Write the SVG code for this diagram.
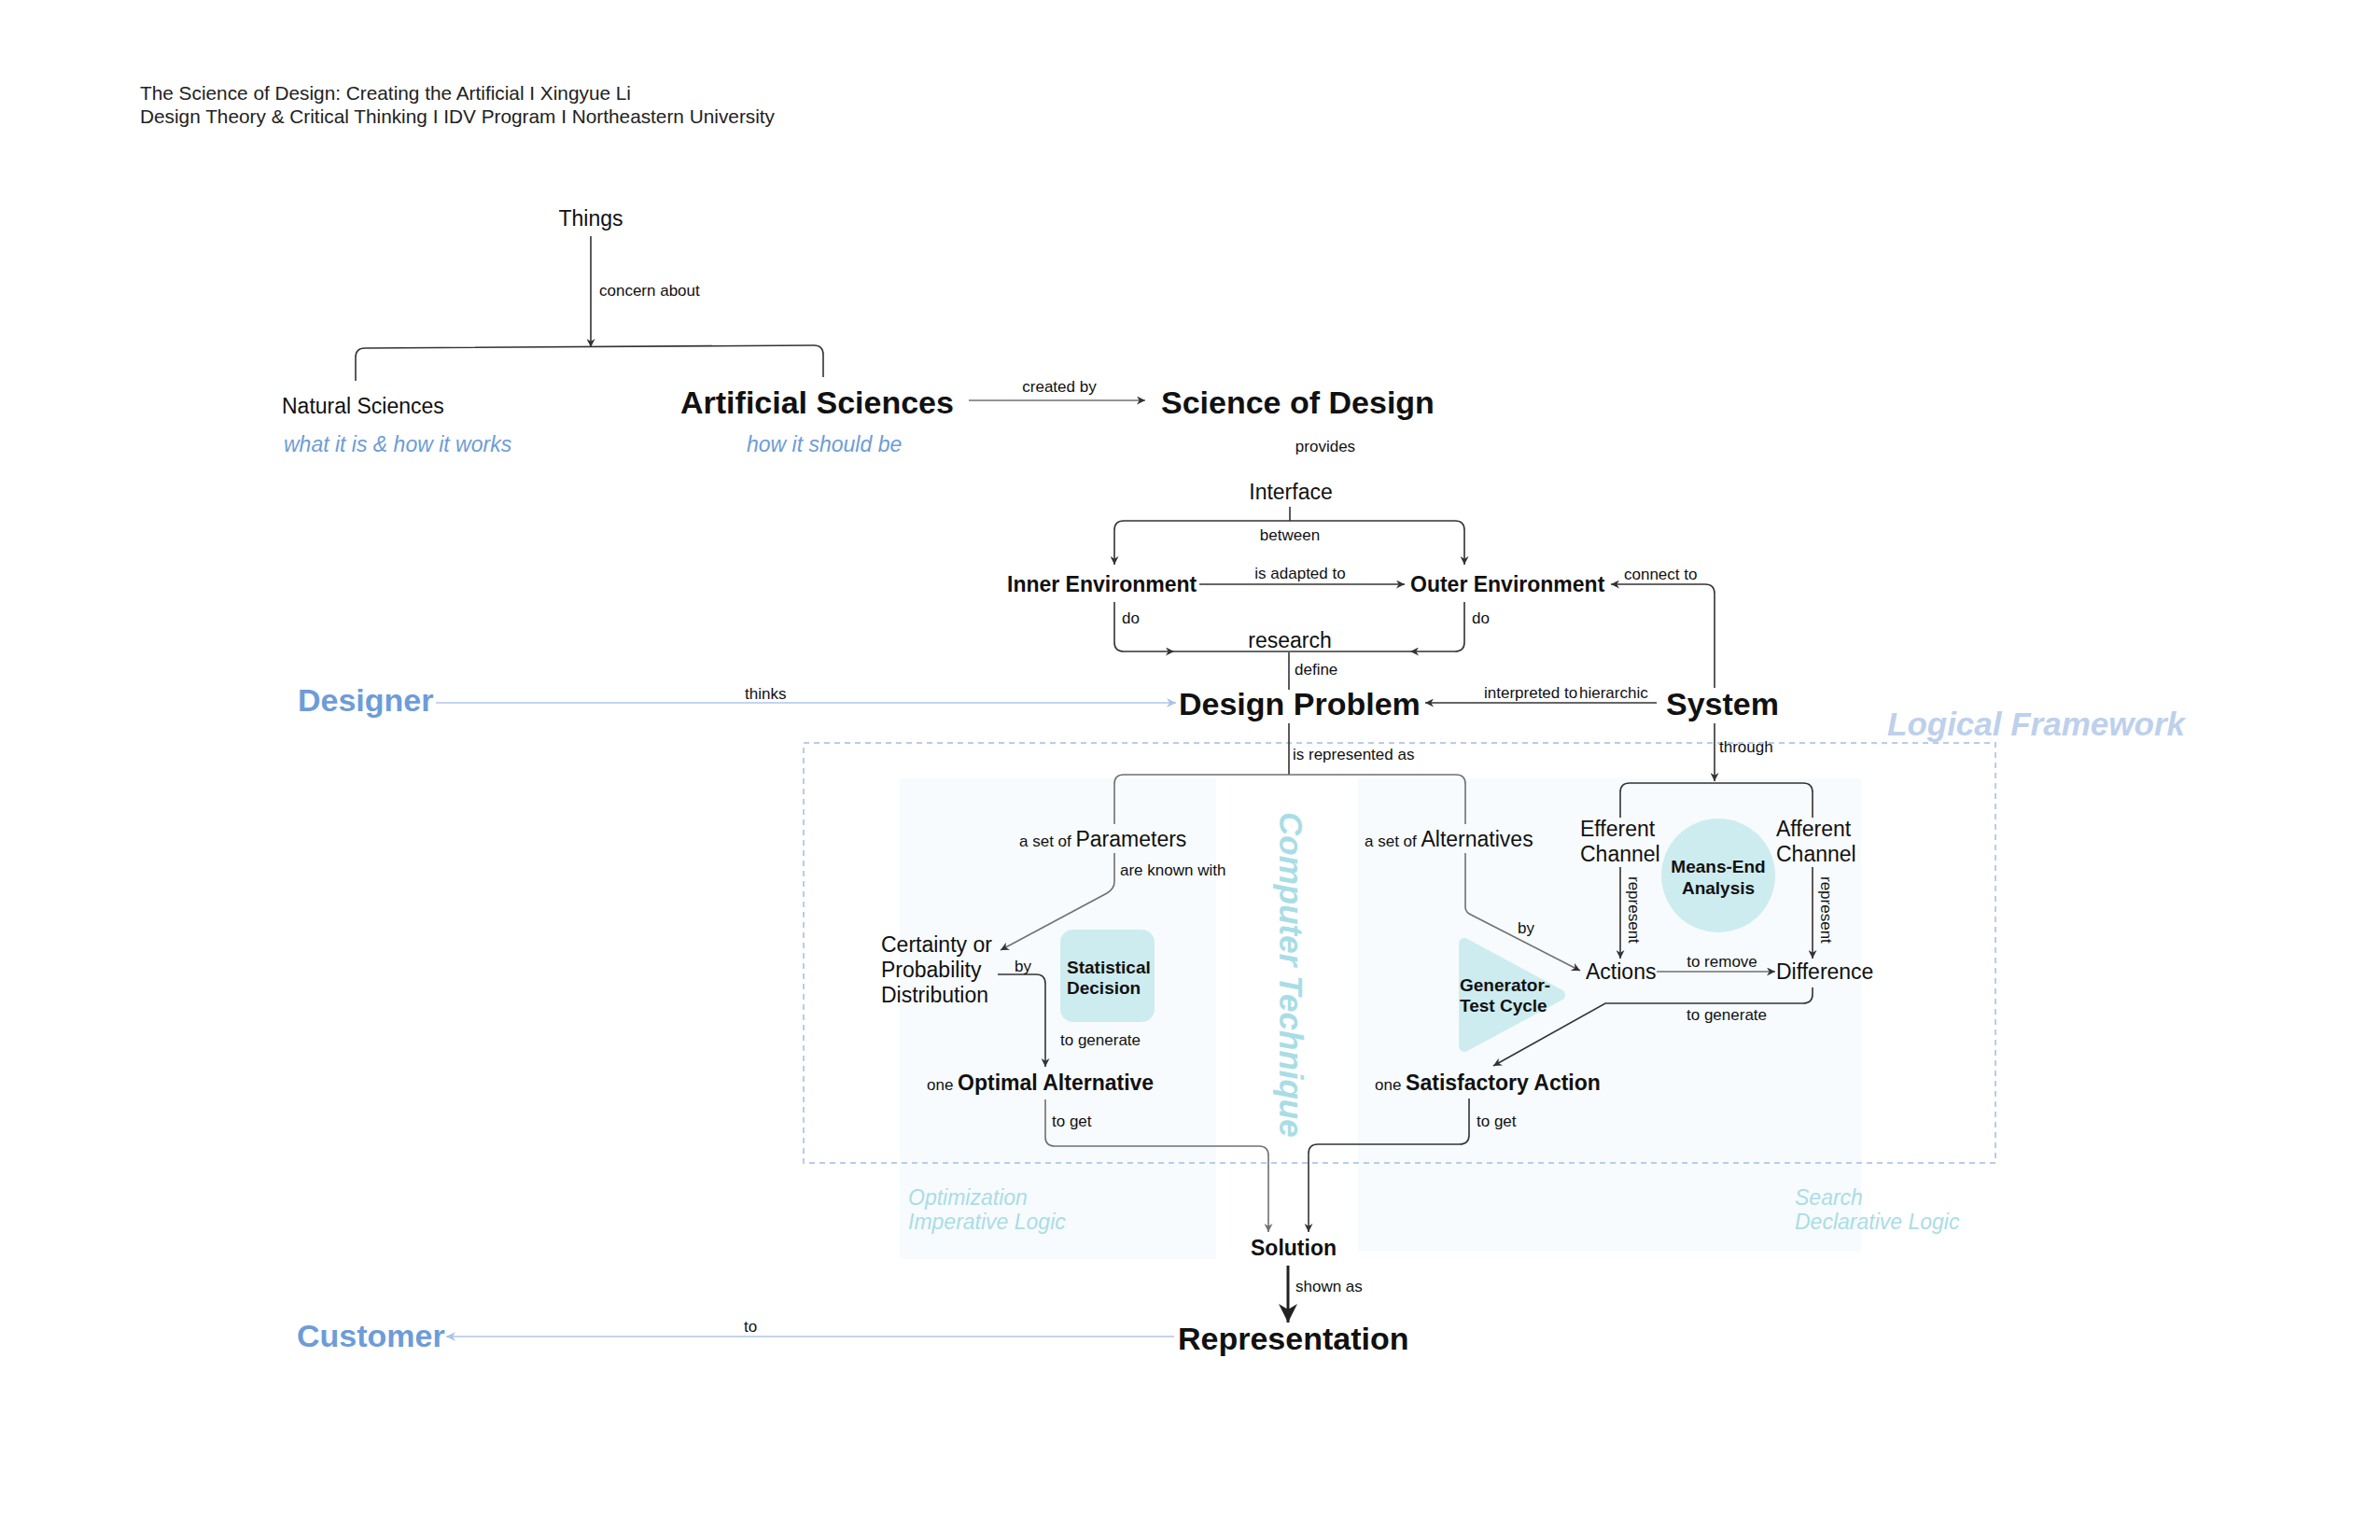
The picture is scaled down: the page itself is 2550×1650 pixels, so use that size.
<svg xmlns="http://www.w3.org/2000/svg" width="2550" height="1650" viewBox="0 0 2550 1650">
<defs>
<style>
text{font-family:"Liberation Sans",Arial,Helvetica,sans-serif;fill:#111}
.l{font-size:17px}
.n{font-size:23px}
.b{font-size:23px;font-weight:bold}
.B{font-size:34px;font-weight:bold}
.s{font-size:19px;font-weight:bold}
.h{font-size:20.8px;fill:#222}
.blue{fill:#6D9CD8}
.bi{font-style:italic;font-size:23px;fill:#6D9CD8}
.cy{font-style:italic;font-size:23px;fill:#A9DDE6}
.c{fill:none;stroke:#333;stroke-width:1.6}
.g{fill:none;stroke:#707070;stroke-width:1.6}
.lb{fill:none;stroke:#C3D5EE;stroke-width:2}
.fill{fill:#CDECF0}
.panel{fill:#F7FBFD}
</style>
<marker id="a" viewBox="0 0 10 10" refX="10" refY="5" markerWidth="9" markerHeight="9" orient="auto" markerUnits="userSpaceOnUse"><path d="M0,0 L10,5 L0,10 L3,5 z" fill="#333"/></marker>
<marker id="ag" viewBox="0 0 10 10" refX="10" refY="5" markerWidth="9" markerHeight="9" orient="auto" markerUnits="userSpaceOnUse"><path d="M0,0 L10,5 L0,10 L3,5 z" fill="#707070"/></marker>
<marker id="al" viewBox="0 0 10 10" refX="10" refY="5" markerWidth="10" markerHeight="10" orient="auto" markerUnits="userSpaceOnUse"><path d="M0,0 L10,5 L0,10 L3,5 z" fill="#A9C3EA"/></marker>
<marker id="ab" viewBox="0 0 10 10" refX="10" refY="5" markerWidth="20" markerHeight="22" orient="auto" markerUnits="userSpaceOnUse"><path d="M0,0 L10,5 L0,10 L3,5 z" fill="#222"/></marker>
</defs>
<rect width="2550" height="1650" fill="#fff"/>

<g id="header">
<text class="h" x="150" y="107">The Science of Design: Creating the Artificial I Xingyue Li</text>
<text class="h" x="150" y="132">Design Theory &amp; Critical Thinking I IDV Program I Northeastern University</text>
</g>

<g id="panels">
<rect class="panel" x="964" y="834" width="339" height="515"/>
<rect class="panel" x="1455" y="834" width="539" height="507"/>
<rect x="861" y="796" width="1277" height="450" fill="none" stroke="#B7CDEA" stroke-width="2" stroke-dasharray="6 5"/>
<text x="2022" y="788" style="font-size:35px;font-weight:bold;font-style:italic;fill:#BDD0EC">Logical Framework</text>
<text class="cy" x="973" y="1291">Optimization</text>
<text class="cy" x="973" y="1317">Imperative Logic</text>
<text class="cy" x="1923" y="1291">Search</text>
<text class="cy" x="1923" y="1317">Declarative Logic</text>
<text transform="translate(1371,870) rotate(90)" style="font-size:35px;font-weight:bold;font-style:italic;fill:#A9DDE6">Computer Technique</text>
</g>

<g id="connectors">
<path class="c" d="M633,253 V372" marker-end="url(#a)"/>
<path class="c" d="M381,408 V383 Q381,373 391,373 L872,370 Q882,370 882,380 V404"/>
<path class="g" d="M1038,429 H1227" marker-end="url(#a)"/>
<path class="c" d="M1382,543 V558"/>
<path class="c" d="M1382,558 H1204 Q1194,558 1194,568 V605" marker-end="url(#a)"/>
<path class="c" d="M1382,558 H1559 Q1569,558 1569,568 V605" marker-end="url(#a)"/>
<path class="c" d="M1285,626 H1505" marker-end="url(#a)"/>
<path class="c" d="M1837,737 V636 Q1837,626 1827,626 H1726" marker-end="url(#a)"/>
<path class="c" d="M1194,645 V688 Q1194,698 1204,698 H1258" marker-end="url(#a)"/>
<path class="c" d="M1569,645 V688 Q1569,698 1559,698 H1511" marker-end="url(#a)"/>
<path class="c" d="M1258,698 H1511"/>
<path class="c" d="M1381,699 V739"/>
<path class="lb" d="M467,753 H1260" marker-end="url(#al)"/>
<path class="c" d="M1775,753 H1527" marker-end="url(#a)"/>
<path class="c" d="M1837,775 V837" marker-end="url(#a)"/>
<path class="c" d="M1736,876 V849 Q1736,839 1746,839 H1932 Q1942,839 1942,849 V876"/>
<path class="c" d="M1736,929 V1027" marker-end="url(#a)"/>
<path class="c" d="M1942,929 V1027" marker-end="url(#a)"/>
<path class="g" d="M1775,1041 H1902" marker-end="url(#a)"/>
<path class="c" d="M1942,1058 V1065 Q1942,1075 1932,1075 H1720 L1600,1142" marker-end="url(#a)"/>
<path class="c" d="M1381,775 V830"/>
<path class="g" d="M1381,830 H1560 Q1570,830 1570,840 V883"/>
<path class="g" d="M1381,830 H1204 Q1194,830 1194,840 V883"/>
<path class="g" d="M1570,914 V972 Q1570,976 1574,979 L1693,1040" marker-end="url(#a)"/>
<path class="g" d="M1194,914 V945 Q1194,952 1186,957 L1072,1018" marker-end="url(#a)"/>
<path class="c" d="M1069,1044 H1110 Q1120,1044 1120,1054 V1143" marker-end="url(#a)"/>
<path class="g" d="M1120,1178 V1218 Q1120,1228 1130,1228 H1349 Q1359,1228 1359,1238 V1320" marker-end="url(#ag)"/>
<path class="c" d="M1574,1177 V1216 Q1574,1226 1564,1226 H1412 Q1402,1226 1402,1236 V1320" marker-end="url(#a)"/>
<path d="M1380,1356 V1417" fill="none" stroke="#222" stroke-width="3" marker-end="url(#ab)"/>
<path class="lb" d="M1258,1432 H478" marker-end="url(#al)"/>
</g>

<g id="edge-labels">
<text class="l" x="642" y="317">concern about</text>
<text class="l" x="1135" y="420" text-anchor="middle">created by</text>
<text class="l" x="1420" y="484" text-anchor="middle">provides</text>
<text class="l" x="1382" y="579" text-anchor="middle">between</text>
<text class="l" x="1393" y="620" text-anchor="middle">is adapted to</text>
<text class="l" x="1740" y="621">connect to</text>
<text class="l" x="1202" y="668">do</text>
<text class="l" x="1577" y="668">do</text>
<text class="l" x="1387" y="723">define</text>
<text class="l" x="798" y="749">thinks</text>
<text class="l" x="1590" y="748">interpreted to</text>
<text class="l" x="1692" y="748">hierarchic</text>
<text class="l" x="1385" y="814">is represented as</text>
<text class="l" x="1842" y="806">through</text>
<text class="l" transform="translate(1745,939) rotate(90)">represent</text>
<text class="l" transform="translate(1951,939) rotate(90)">represent</text>
<text class="l" x="1845" y="1036" text-anchor="middle">to remove</text>
<text class="l" x="1807" y="1093">to generate</text>
<text class="l" x="1626" y="1000">by</text>
<text class="l" x="1200" y="938">are known with</text>
<text class="l" x="1087" y="1041">by</text>
<text class="l" x="1136" y="1120">to generate</text>
<text class="l" x="1127" y="1207">to get</text>
<text class="l" x="1582" y="1207">to get</text>
<text class="l" x="1388" y="1384">shown as</text>
<text class="l" x="797" y="1427">to</text>
</g>

<g id="things"><text class="n" x="633" y="242" text-anchor="middle">Things</text></g>
<g id="natural-sciences">
<text class="n" x="302" y="443">Natural Sciences</text>
<text class="bi" x="304" y="484">what it is &amp; how it works</text>
</g>
<g id="artificial-sciences">
<text class="B" x="729" y="443">Artificial Sciences</text>
<text class="bi" x="800" y="484">how it should be</text>
</g>
<g id="science-of-design"><text class="B" x="1244" y="443">Science of Design</text></g>
<g id="interface"><text class="n" x="1383" y="535" text-anchor="middle">Interface</text></g>
<g id="inner-environment"><text class="b" x="1079" y="634">Inner Environment</text></g>
<g id="outer-environment"><text class="b" x="1511" y="634">Outer Environment</text></g>
<g id="research"><text class="n" x="1382" y="694" text-anchor="middle">research</text></g>
<g id="designer"><text class="B blue" x="319" y="762">Designer</text></g>
<g id="design-problem"><text class="B" x="1263" y="766">Design Problem</text></g>
<g id="system"><text class="B" x="1785" y="766">System</text></g>
<g id="parameters"><text x="1092" y="907"><tspan class="l">a set of </tspan><tspan class="n">Parameters</tspan></text></g>
<g id="alternatives"><text x="1462" y="907"><tspan class="l">a set of </tspan><tspan class="n">Alternatives</tspan></text></g>
<g id="efferent-channel"><text class="n" x="1693" y="896">Efferent</text><text class="n" x="1693" y="923">Channel</text></g>
<g id="afferent-channel"><text class="n" x="1903" y="896">Afferent</text><text class="n" x="1903" y="923">Channel</text></g>
<g id="means-end-analysis">
<circle class="fill" cx="1841" cy="938" r="61"/>
<text class="s" x="1841" y="935" text-anchor="middle">Means-End</text>
<text class="s" x="1841" y="958" text-anchor="middle">Analysis</text>
</g>
<g id="actions"><text class="n" x="1699" y="1049">Actions</text></g>
<g id="difference"><text class="n" x="1903" y="1049">Difference</text></g>
<g id="generator-test-cycle">
<polygon class="fill" points="1569,1011 1569,1121 1671,1066" stroke="#CDECF0" stroke-width="12" stroke-linejoin="round"/>
<text class="s" x="1564" y="1062">Generator-</text>
<text class="s" x="1564" y="1084">Test Cycle</text>
</g>
<g id="certainty"><text class="n" x="944" y="1020">Certainty or</text><text class="n" x="944" y="1047">Probability</text><text class="n" x="944" y="1074">Distribution</text></g>
<g id="statistical-decision">
<rect class="fill" x="1136" y="996" width="101" height="99" rx="14"/>
<text class="s" x="1143" y="1043">Statistical</text>
<text class="s" x="1143" y="1065">Decision</text>
</g>
<g id="optimal-alternative"><text x="993" y="1168"><tspan class="l">one </tspan><tspan class="b">Optimal Alternative</tspan></text></g>
<g id="satisfactory-action"><text x="1473" y="1168"><tspan class="l">one </tspan><tspan class="b">Satisfactory Action</tspan></text></g>
<g id="solution"><text class="b" x="1340" y="1345">Solution</text></g>
<g id="representation"><text class="B" x="1262" y="1446">Representation</text></g>
<g id="customer"><text class="B blue" x="318" y="1443">Customer</text></g>
</svg>
